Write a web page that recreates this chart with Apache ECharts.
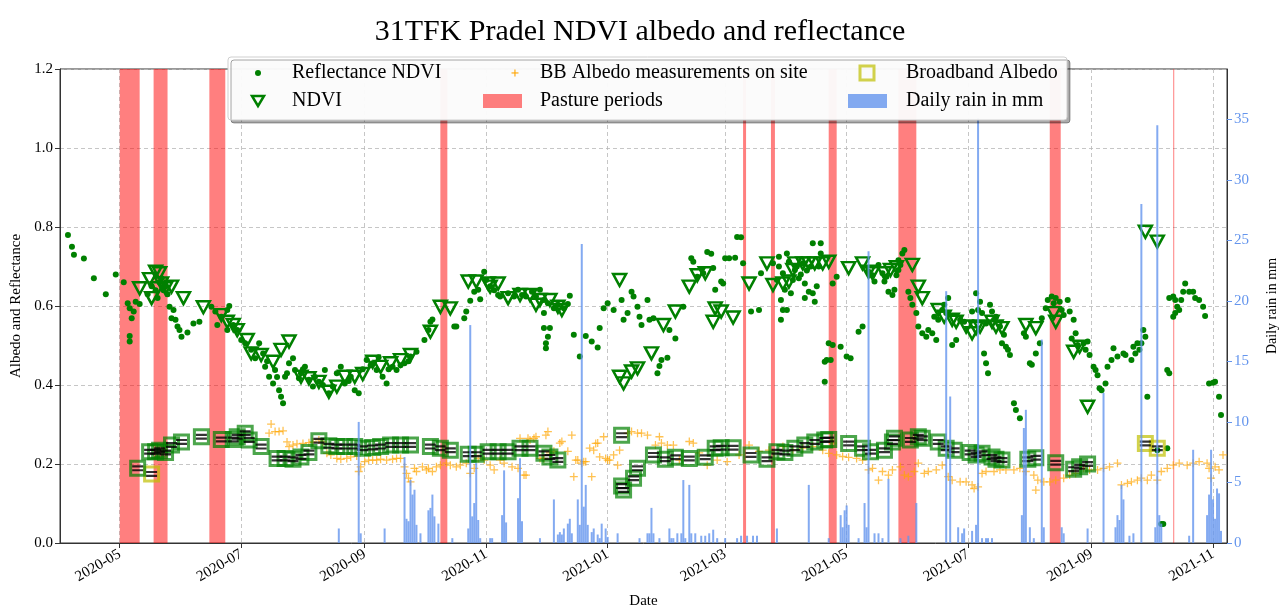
<!DOCTYPE html>
<html>
<head>
<meta charset="utf-8">
<script src="https://cdn.jsdelivr.net/npm/echarts@6/dist/echarts.min.js"></script>
<style>
html,body{margin:0;padding:0;background:#fff;}
#chart{width:1280px;height:608px;}
</style>
</head>
<body>
<div id="chart"></div>
<script>
// ---------------- DATA ----------------
const X_MIN = '2020-04-01';
const X_MAX = '2021-11-08';
const xTickLabels = ['2020-05','2020-07','2020-09','2020-11','2021-01','2021-03','2021-05','2021-07','2021-09','2021-11'];
const rainTicks = [0,5,10,15,20,25,30,35];
const RAIN_MAX = 39.15;

const pastureStart = ['2020-05-01','2020-05-18','2020-06-15','2020-10-09','2021-03-10','2021-03-24','2021-04-22','2021-05-27','2021-08-11','2021-10-12'];
const pastureEnd   = ['2020-05-11','2020-05-25','2020-06-23','2020-10-12T12:00','2021-03-11T12:00','2021-03-26','2021-04-26','2021-06-05','2021-08-16T12:00','2021-10-12T12:00'];

const reflectanceNdvi = [
['2020-04-05',0.78],['2020-04-07',0.75],['2020-04-08',0.73],['2020-04-13',0.72],['2020-04-18',0.67],['2020-04-24',0.63],['2020-04-29',0.68],['2020-05-03',0.66],
['2020-05-05',0.607],['2020-05-06',0.594],['2020-05-08',0.586],['2020-05-07',0.569],['2020-05-06',0.524],['2020-05-06',0.51],['2020-05-09',0.611],['2020-05-11',0.605],
['2020-05-15',0.63],['2020-05-17',0.65],['2020-05-19',0.64],['2020-05-20',0.62],['2020-05-21',0.66],['2020-05-22',0.67],['2020-05-23',0.64],['2020-05-24',0.65],['2020-05-25',0.63],
['2020-05-26',0.598],['2020-05-27',0.569],['2020-05-28',0.59],['2020-05-29',0.565],['2020-05-30',0.548],['2020-05-31',0.539],['2020-06-01',0.522],['2020-06-04',0.533],['2020-06-07',0.556],['2020-06-10',0.56],
['2020-06-16',0.598],['2020-06-18',0.586],['2020-06-19',0.552],['2020-06-21',0.573],['2020-06-24',0.59],['2020-06-24',0.539],['2020-06-25',0.60],
['2020-06-27',0.552],['2020-06-29',0.539],['2020-07-01',0.514],['2020-07-03',0.506],['2020-07-06',0.489],['2020-07-08',0.468],['2020-07-10',0.506],['2020-07-12',0.48],['2020-07-13',0.446],['2020-07-14',0.46],['2020-07-15',0.421],['2020-07-17',0.404],['2020-07-18',0.438],['2020-07-19',0.42],['2020-07-20',0.387],['2020-07-21',0.37],['2020-07-22',0.354],['2020-07-23',0.421],['2020-07-24',0.43],['2020-07-25',0.455],['2020-07-27',0.468],['2020-07-28',0.438],['2020-07-30',0.417],['2020-07-31',0.43],['2020-08-01',0.44],['2020-08-02',0.446],['2020-08-04',0.413],['2020-08-06',0.396],['2020-08-07',0.42],['2020-08-09',0.408],['2020-08-11',0.40],['2020-08-12',0.438],['2020-08-14',0.379],['2020-08-16',0.396],['2020-08-18',0.43],['2020-08-20',0.446],['2020-08-22',0.404],['2020-08-24',0.41],['2020-08-25',0.421],['2020-08-27',0.387],['2020-08-29',0.379],['2020-08-31',0.44],
['2020-09-02',0.463],['2020-09-04',0.45],['2020-09-05',0.455],['2020-09-07',0.438],['2020-09-08',0.47],['2020-09-10',0.421],['2020-09-12',0.404],['2020-09-13',0.44],['2020-09-15',0.446],['2020-09-17',0.438],['2020-09-19',0.45],['2020-09-21',0.455],['2020-09-23',0.46],['2020-09-24',0.472],['2020-09-27',0.484],['2020-10-01',0.514],['2020-10-03',0.539],['2020-10-04',0.56],['2020-10-05',0.566],
['2020-10-16',0.548],['2020-10-17',0.548],['2020-10-21',0.569],['2020-10-22',0.586],['2020-10-24',0.613],['2020-10-26',0.636],['2020-10-28',0.641],['2020-10-29',0.617],['2020-10-31',0.687],['2020-11-01',0.666],['2020-11-03',0.65],['2020-11-05',0.64],['2020-11-07',0.628],['2020-11-08',0.624],['2020-11-12',0.632],['2020-11-15',0.624],['2020-11-17',0.641],['2020-11-19',0.628],['2020-11-21',0.624],['2020-11-24',0.636],['2020-11-26',0.624],['2020-11-28',0.641],['2020-11-30',0.615],['2020-12-02',0.607],['2020-12-05',0.594],['2020-12-07',0.603],['2020-12-10',0.594],['2020-12-12',0.605],['2020-12-13',0.626],
['2020-11-30',0.582],['2020-11-30',0.544],['2020-12-03',0.544],['2020-12-02',0.522],['2020-12-01',0.506],['2020-12-01',0.493],
['2020-12-15',0.527],['2020-12-18',0.472],['2020-12-21',0.524],['2020-12-24',0.51],['2020-12-27',0.495],['2020-12-28',0.544],['2020-12-30',0.594],['2021-01-01',0.607],['2021-01-04',0.59],['2021-01-08',0.615],['2021-01-09',0.565],['2021-01-11',0.582],['2021-01-13',0.636],['2021-01-14',0.624],['2021-01-16',0.598],['2021-01-17',0.573],['2021-01-18',0.552],['2021-01-21',0.615],['2021-01-22',0.565],['2021-01-24',0.569],['2021-01-26',0.43],['2021-01-27',0.448],['2021-01-28',0.463],['2021-01-31',0.469],['2021-02-01',0.539],['2021-02-04',0.518],['2021-02-08',0.598],['2021-02-12',0.721],['2021-02-13',0.712],['2021-02-15',0.674],['2021-02-18',0.683],['2021-02-20',0.737],['2021-02-22',0.732],['2021-02-23',0.696],['2021-02-24',0.641],['2021-02-27',0.662],['2021-02-28',0.657],['2021-03-01',0.721],['2021-03-03',0.721],['2021-03-06',0.722],['2021-03-07',0.775],['2021-03-09',0.774],['2021-03-10',0.708],['2021-03-14',0.586],['2021-03-18',0.59],['2021-03-19',0.683],['2021-03-25',0.708],
['2021-03-27',0.666],['2021-03-28',0.70],['2021-03-28',0.725],['2021-03-30',0.683],['2021-03-31',0.641],['2021-03-29',0.615],['2021-03-30',0.59],['2021-03-29',0.565],['2021-04-01',0.733],['2021-04-02',0.712],['2021-04-03',0.632],['2021-04-01',0.59],['2021-04-04',0.666],['2021-04-05',0.691],['2021-04-06',0.70],['2021-04-07',0.67],['2021-04-08',0.68],['2021-04-09',0.708],['2021-04-10',0.657],['2021-04-11',0.69],['2021-04-12',0.636],['2021-04-10',0.62],['2021-04-13',0.70],['2021-04-14',0.759],['2021-04-14',0.632],['2021-04-15',0.611],['2021-04-16',0.65],['2021-04-17',0.70],['2021-04-18',0.759],['2021-04-18',0.733],['2021-04-20',0.459],['2021-04-20',0.408],['2021-04-21',0.463],['2021-04-22',0.506],['2021-04-23',0.463],['2021-04-24',0.657],['2021-04-24',0.501],['2021-04-26',0.674],['2021-04-28',0.497],['2021-05-01',0.472],['2021-05-03',0.468],['2021-05-07',0.535],['2021-05-09',0.548],
['2021-05-12',0.687],['2021-05-14',0.678],['2021-05-15',0.662],['2021-05-17',0.704],['2021-05-19',0.683],['2021-05-20',0.662],['2021-05-21',0.674],['2021-05-22',0.636],['2021-05-24',0.628],['2021-05-25',0.641],['2021-05-26',0.678],['2021-05-27',0.691],['2021-05-27',0.716],['2021-05-28',0.704],['2021-05-29',0.733],['2021-05-30',0.742],
['2021-06-01',0.636],['2021-06-02',0.62],['2021-06-03',0.603],['2021-06-05',0.582],['2021-06-06',0.548],['2021-06-08',0.531],['2021-06-10',0.522],['2021-06-11',0.539],['2021-06-13',0.531],['2021-06-15',0.514],['2021-06-14',0.573],['2021-06-16',0.565],['2021-06-19',0.603],['2021-06-21',0.62],['2021-06-18',0.59],['2021-06-20',0.582],
['2021-06-23',0.501],['2021-06-25',0.514],['2021-06-27',0.565],['2021-06-29',0.56],['2021-07-05',0.632],['2021-07-07',0.611],['2021-07-03',0.586],['2021-07-06',0.59],['2021-07-08',0.582],['2021-07-10',0.556],['2021-07-12',0.603],['2021-07-13',0.586],['2021-07-14',0.565],['2021-07-15',0.573],['2021-07-17',0.548],['2021-07-19',0.527],['2021-07-18',0.506],['2021-07-21',0.489],['2021-07-22',0.476],['2021-07-20',0.497],['2021-07-09',0.48],['2021-07-10',0.455],['2021-07-11',0.43],
['2021-07-24',0.354],['2021-07-25',0.337],['2021-07-27',0.316],['2021-07-29',0.531],['2021-07-30',0.522],['2021-08-01',0.455],['2021-08-02',0.451],['2021-08-04',0.48],['2021-08-06',0.506],
['2021-08-07',0.569],['2021-08-09',0.594],['2021-08-10',0.615],['2021-08-12',0.624],['2021-08-13',0.607],['2021-08-14',0.62],['2021-08-16',0.611],['2021-08-17',0.59],['2021-08-18',0.577],['2021-08-20',0.615],['2021-08-21',0.586],['2021-08-23',0.565],
['2021-08-22',0.518],['2021-08-24',0.531],['2021-08-25',0.501],['2021-08-28',0.506],['2021-08-30',0.51],['2021-08-29',0.489],['2021-08-31',0.476],['2021-09-02',0.446],['2021-09-03',0.438],['2021-09-04',0.425],['2021-09-05',0.392],['2021-09-06',0.387],['2021-09-08',0.404],['2021-09-09',0.446],['2021-09-11',0.463],['2021-09-12',0.493],['2021-09-14',0.472],['2021-09-17',0.48],['2021-09-18',0.476],['2021-09-21',0.463],['2021-09-22',0.497],['2021-09-23',0.48],['2021-09-24',0.506],['2021-09-25',0.489],['2021-09-26',0.506],['2021-09-27',0.539],['2021-09-28',0.522],['2021-09-29',0.37],
['2021-10-04',0.235],['2021-10-06',0.048],['2021-10-07',0.048],['2021-10-09',0.24],['2021-10-09',0.438],['2021-10-10',0.43],['2021-10-10',0.62],['2021-10-12',0.624],['2021-10-13',0.615],['2021-10-14',0.598],['2021-10-15',0.59],['2021-10-12',0.573],['2021-10-13',0.582],['2021-10-16',0.615],['2021-10-17',0.636],['2021-10-18',0.657],['2021-10-20',0.636],['2021-10-22',0.636],['2021-10-23',0.62],['2021-10-25',0.615],['2021-10-27',0.598],['2021-10-28',0.575],['2021-10-30',0.404],['2021-11-01',0.406],['2021-11-02',0.408],['2021-11-04',0.37],['2021-11-05',0.324]
];

const ndvi = [
['2020-05-11',0.645],['2020-05-16',0.668],['2020-05-17',0.62],['2020-05-19',0.687],['2020-05-21',0.683],['2020-05-20',0.645],['2020-05-22',0.657],['2020-05-24',0.645],['2020-05-27',0.649],['2020-06-02',0.62],['2020-06-12',0.597],['2020-06-21',0.577],['2020-06-24',0.56],['2020-06-27',0.552],['2020-06-29',0.539],['2020-07-04',0.514],['2020-07-06',0.48],['2020-07-11',0.476],['2020-07-17',0.459],['2020-07-21',0.489],['2020-07-25',0.51],['2020-07-31',0.421],['2020-08-04',0.417],['2020-08-09',0.408],['2020-08-14',0.383],['2020-08-18',0.396],['2020-08-22',0.421],['2020-08-27',0.421],['2020-08-31',0.428],['2020-09-05',0.459],['2020-09-09',0.446],['2020-09-14',0.455],['2020-09-19',0.463],['2020-09-24',0.476],['2020-10-04',0.535],['2020-10-09',0.598],['2020-10-14',0.594],
['2020-10-23',0.662],['2020-10-27',0.662],['2020-11-02',0.657],['2020-11-03',0.649],['2020-11-07',0.657],['2020-11-12',0.62],['2020-11-18',0.628],['2020-11-23',0.628],['2020-11-26',0.603],['2020-11-28',0.615],['2020-12-03',0.615],['2020-12-07',0.598],['2020-12-09',0.59],
['2021-01-07',0.666],['2021-01-07',0.421],['2021-01-09',0.404],['2021-01-13',0.434],['2021-01-16',0.442],['2021-01-23',0.48],['2021-01-29',0.552],['2021-02-04',0.586],['2021-02-11',0.649],['2021-02-15',0.678],['2021-02-19',0.683],['2021-02-23',0.56],['2021-02-24',0.594],['2021-02-27',0.586],['2021-03-05',0.571],['2021-03-13',0.657],['2021-03-22',0.708],['2021-03-25',0.653],['2021-03-30',0.657],['2021-04-02',0.662],['2021-04-04',0.691],['2021-04-05',0.708],['2021-04-09',0.708],['2021-04-12',0.708],['2021-04-15',0.708],['2021-04-19',0.708],['2021-04-22',0.712],
['2021-05-02',0.696],['2021-05-09',0.708],['2021-05-12',0.687],['2021-05-14',0.683],['2021-05-20',0.683],['2021-05-23',0.691],['2021-05-26',0.698],['2021-06-03',0.704],['2021-06-06',0.649],['2021-06-08',0.62],['2021-06-16',0.59],['2021-06-19',0.573],['2021-06-23',0.565],['2021-06-25',0.56],['2021-06-30',0.548],['2021-07-03',0.531],['2021-07-05',0.544],['2021-07-07',0.548],['2021-07-13',0.56],['2021-07-15',0.548],['2021-07-18',0.544],['2021-07-30',0.552],['2021-08-04',0.544],['2021-08-13',0.582],['2021-08-14',0.56],['2021-08-23',0.484],['2021-08-26',0.497],['2021-08-30',0.345],['2021-09-28',0.788],['2021-10-04',0.763]
];

const bbAlbedoSite = [
['2020-07-15',0.278],['2020-07-16',0.301],['2020-07-18',0.282],['2020-07-20',0.282],['2020-07-22',0.284],['2020-07-24',0.256],['2020-07-25',0.244],['2020-07-27',0.248],['2020-07-29',0.251],['2020-08-01',0.252],['2020-08-04',0.254],['2020-08-06',0.256],['2020-08-09',0.261],['2020-08-11',0.256],['2020-08-13',0.227],['2020-08-15',0.223],['2020-08-18',0.214],['2020-08-20',0.212],['2020-08-23',0.214],['2020-08-25',0.218],['2020-08-28',0.22],['2020-08-29',0.181],['2020-08-30',0.193],['2020-09-01',0.206],['2020-09-03',0.21],['2020-09-05',0.21],['2020-09-07',0.21],['2020-09-09',0.212],['2020-09-12',0.21],['2020-09-15',0.212],['2020-09-17',0.214],['2020-09-19',0.214],['2020-09-21',0.193],['2020-09-22',0.176],['2020-09-23',0.164],['2020-09-24',0.155],['2020-09-26',0.189],['2020-09-27',0.181],['2020-09-30',0.193],['2020-10-02',0.185],['2020-10-03',0.189],['2020-10-05',0.181],['2020-10-07',0.193],['2020-10-09',0.197],['2020-10-12',0.202],['2020-10-14',0.197],['2020-10-17',0.193],['2020-10-19',0.197],['2020-10-22',0.202],['2020-10-24',0.176],['2020-10-26',0.189],['2020-10-28',0.214],['2020-10-31',0.21],['2020-11-03',0.197],['2020-11-05',0.185],['2020-11-08',0.21],['2020-11-10',0.202],['2020-11-14',0.193],['2020-11-17',0.189],['2020-11-20',0.172],['2020-11-21',0.172],['2020-11-18',0.265],['2020-11-22',0.265],['2020-11-23',0.261],['2020-11-25',0.265],['2020-11-26',0.269],['2020-11-28',0.214],['2020-11-30',0.214],['2020-12-01',0.273],['2020-12-02',0.282],['2020-12-03',0.228],['2020-12-05',0.232],['2020-12-08',0.253],['2020-12-09',0.257],['2020-12-12',0.232],['2020-12-14',0.273],['2020-12-15',0.168],['2020-12-16',0.21],['2020-12-17',0.21],['2020-12-19',0.202],['2020-12-20',0.206],['2020-12-21',0.206],['2020-12-23',0.24],['2020-12-24',0.168],['2020-12-25',0.235],['2020-12-26',0.252],['2020-12-27',0.253],['2020-12-28',0.218],['2020-12-30',0.269],['2020-12-31',0.214],['2021-01-01',0.21],['2021-01-02',0.21],['2021-01-04',0.223],['2021-01-06',0.197],['2021-01-07',0.235],['2021-01-11',0.278],['2021-01-13',0.282],['2021-01-16',0.278],['2021-01-18',0.278],['2021-01-21',0.273],['2021-01-25',0.248],['2021-01-27',0.269],['2021-01-28',0.253],['2021-01-31',0.248],['2021-02-03',0.248],['2021-02-06',0.21],['2021-02-11',0.257],['2021-02-13',0.253],['2021-02-16',0.228],['2021-02-20',0.197],['2021-02-25',0.21],['2021-03-02',0.206],['2021-03-08',0.223],['2021-03-13',0.248],['2021-03-18',0.232],['2021-03-23',0.235],['2021-03-30',0.244],['2021-04-04',0.235],['2021-04-09',0.24],['2021-04-14',0.244],['2021-04-19',0.235],['2021-04-22',0.227],['2021-04-24',0.253],['2021-04-26',0.223],['2021-04-29',0.219],['2021-05-02',0.217],['2021-05-06',0.214],['2021-05-09',0.21],['2021-05-12',0.185],['2021-05-14',0.189],['2021-05-17',0.159],['2021-05-19',0.181],['2021-05-22',0.172],['2021-05-24',0.185],['2021-05-28',0.193],['2021-05-30',0.172],['2021-06-01',0.168],['2021-06-04',0.181],['2021-06-06',0.202],['2021-06-09',0.176],['2021-06-11',0.181],['2021-06-15',0.185],['2021-06-18',0.197],['2021-06-21',0.168],['2021-06-23',0.159],['2021-06-27',0.155],['2021-06-30',0.155],['2021-07-03',0.147],['2021-07-04',0.138],['2021-07-06',0.142],['2021-07-08',0.176],['2021-07-10',0.181],['2021-07-14',0.181],['2021-07-17',0.185],['2021-07-20',0.185],['2021-07-24',0.185],['2021-07-27',0.189],['2021-07-30',0.181],['2021-08-03',0.172],['2021-08-04',0.134],['2021-08-05',0.159],['2021-08-08',0.155],['2021-08-11',0.155],['2021-08-14',0.159],['2021-08-18',0.164],['2021-08-21',0.172],['2021-08-24',0.176],['2021-08-28',0.189],['2021-08-31',0.185],['2021-09-04',0.185],['2021-09-07',0.189],['2021-09-10',0.193],['2021-09-14',0.202],['2021-09-16',0.147],['2021-09-19',0.151],['2021-09-21',0.155],['2021-09-24',0.159],['2021-09-26',0.164],['2021-09-29',0.159],['2021-10-01',0.172],['2021-10-04',0.159],['2021-10-06',0.181],['2021-10-09',0.189],['2021-10-12',0.197],['2021-10-15',0.202],['2021-10-19',0.197],['2021-10-22',0.202],['2021-10-25',0.206],['2021-10-29',0.202],['2021-10-30',0.189],['2021-10-31',0.164],['2021-11-02',0.193],['2021-11-04',0.185],['2021-11-06',0.223]
];

const broadbandAlbedo = [
['2020-05-10',0.189],['2020-05-16',0.231],['2020-05-19',0.231],['2020-05-21',0.235],['2020-05-24',0.229],['2020-05-27',0.248],['2020-06-01',0.256],['2020-06-11',0.269],['2020-06-21',0.262],['2020-06-27',0.262],['2020-06-29',0.269],['2020-07-03',0.278],['2020-07-05',0.261],['2020-07-11',0.244],['2020-07-19',0.214],['2020-07-23',0.214],['2020-07-27',0.212],['2020-07-31',0.218],['2020-08-04',0.229],['2020-08-09',0.259],['2020-08-14',0.246],['2020-08-18',0.244],['2020-08-22',0.244],['2020-08-27',0.244],['2020-08-31',0.24],['2020-09-05',0.242],['2020-09-09',0.244],['2020-09-14',0.248],['2020-09-19',0.248],['2020-09-24',0.248],['2020-10-04',0.244],['2020-10-09',0.24],['2020-10-14',0.235],['2020-10-23',0.225],['2020-10-27',0.225],['2020-11-02',0.231],['2020-11-07',0.231],['2020-11-12',0.231],['2020-11-18',0.24],['2020-11-23',0.24],['2020-11-30',0.227],['2020-12-03',0.218],['2020-12-07',0.21],
['2021-01-08',0.273],['2021-01-08',0.144],['2021-01-09',0.134],['2021-01-14',0.164],['2021-01-16',0.189],['2021-01-24',0.223],['2021-01-30',0.212],['2021-02-04',0.217],['2021-02-11',0.214],['2021-02-19',0.217],['2021-02-24',0.24],['2021-02-27',0.241],['2021-03-05',0.241],['2021-03-14',0.223],['2021-03-22',0.212],['2021-03-27',0.231],['2021-03-31',0.229],['2021-04-05',0.24],['2021-04-10',0.248],['2021-04-15',0.256],['2021-04-20',0.261],['2021-04-22',0.262],['2021-05-02',0.252],['2021-05-09',0.24],['2021-05-13',0.231],['2021-05-20',0.235],['2021-05-24',0.256],['2021-05-25',0.265],['2021-06-02',0.261],['2021-06-06',0.269],['2021-06-08',0.265],['2021-06-16',0.256],['2021-06-20',0.24],['2021-06-24',0.235],['2021-07-02',0.229],['2021-07-05',0.223],['2021-07-08',0.227],['2021-07-13',0.218],['2021-07-15',0.212],['2021-07-18',0.21],['2021-07-31',0.212],['2021-08-04',0.216],['2021-08-14',0.203],['2021-08-23',0.187],['2021-08-26',0.193],['2021-08-30',0.2]
];
const broadbandAlbedoOnly = [['2020-05-17',0.175],['2021-09-28',0.252],['2021-10-04',0.24]];

const dailyRain = [
['2020-08-19',1.2],['2020-08-29',10.0],['2020-08-30',0.8],['2020-09-11',1.2],['2020-09-21',7.1],['2020-09-22',2.0],['2020-09-23',1.8],['2020-09-24',5.2],['2020-09-25',4.0],['2020-09-26',4.4],['2020-09-27',1.5],['2020-09-29',0.8],['2020-10-03',2.7],['2020-10-04',2.9],['2020-10-05',4.0],['2020-10-06',2.2],['2020-10-08',1.6],['2020-10-15',0.4],['2020-10-23',1.2],['2020-10-24',18.0],['2020-10-25',2.2],['2020-10-26',3.3],['2020-10-27',6.6],['2020-10-28',1.9],['2020-10-29',0.4],['2020-11-03',0.4],['2020-11-04',0.4],['2020-11-09',2.3],['2020-11-10',6.0],['2020-11-11',1.7],['2020-11-17',3.7],['2020-11-18',7.0],['2020-11-19',1.8],['2020-11-28',0.4],['2020-12-05',3.6],['2020-12-07',0.7],['2020-12-08',0.9],['2020-12-09',0.7],['2020-12-10',1.2],['2020-12-12',1.6],['2020-12-13',2.0],['2020-12-14',0.8],['2020-12-17',3.6],['2020-12-18',1.5],['2020-12-19',24.7],['2020-12-20',3.0],['2020-12-21',4.8],['2020-12-22',1.5],['2020-12-24',0.9],['2020-12-25',1.2],['2020-12-27',0.7],['2020-12-28',0.4],['2020-12-29',1.6],['2020-12-31',1.2],
['2021-01-01',0.5],['2021-01-06',0.8],['2021-01-17',0.4],['2021-01-21',0.8],['2021-01-22',0.8],['2021-01-23',2.9],['2021-01-24',0.8],['2021-01-27',0.4],['2021-02-01',1.2],['2021-02-02',0.4],['2021-02-03',0.4],['2021-02-05',0.8],['2021-02-07',0.8],['2021-02-08',5.2],['2021-02-09',0.4],['2021-02-11',4.8],['2021-02-12',0.8],['2021-02-14',0.8],['2021-02-17',0.6],['2021-02-19',0.6],['2021-02-21',0.8],['2021-02-23',1.1],['2021-02-25',0.4],['2021-03-01',0.4],['2021-03-07',0.4],['2021-03-09',0.6],['2021-03-12',0.6],['2021-03-15',0.6],['2021-03-17',0.6],['2021-03-27',1.2],['2021-04-12',4.8],['2021-04-22',0.4],['2021-04-28',2.3],['2021-04-29',1.3],['2021-04-30',2.7],['2021-05-01',3.1],['2021-05-02',1.5],['2021-05-07',0.4],['2021-05-10',3.3],['2021-05-11',1.3],['2021-05-12',24.1],['2021-05-15',0.8],['2021-05-17',0.8],['2021-05-19',0.4],['2021-05-22',5.3],['2021-05-28',0.4],['2021-06-01',0.6],['2021-06-05',3.3],['2021-06-20',20.8],['2021-06-22',12.1],['2021-06-26',1.3],['2021-06-28',0.8],['2021-06-29',1.2],['2021-07-03',1.0],['2021-07-05',1.5],['2021-07-06',35.1],['2021-07-08',0.4],['2021-07-10',0.4],['2021-07-11',0.4],['2021-07-13',0.4],['2021-07-28',2.3],['2021-07-29',9.5],['2021-07-30',11.0],['2021-08-01',1.3],['2021-08-03',0.4],['2021-08-07',16.8],['2021-08-08',1.3],['2021-08-17',1.3],['2021-08-18',0.8],['2021-08-30',1.2],['2021-09-07',12.4],['2021-09-13',1.3],['2021-09-14',2.3],['2021-09-15',1.9],['2021-09-16',4.8],['2021-09-17',3.6],['2021-09-20',0.6],['2021-09-22',0.8],['2021-09-26',28.0],['2021-10-03',1.3],['2021-10-04',34.5],['2021-10-05',2.3],['2021-10-06',1.6],['2021-10-20',0.6],['2021-10-22',7.7],['2021-10-29',2.3],['2021-10-30',4.0],['2021-10-31',7.7],['2021-11-01',3.6],['2021-11-02',2.0],['2021-11-03',4.5],['2021-11-04',4.1],['2021-11-05',1.0]
];

// ---------------- CHART ----------------
const FONT = 'Liberation Serif, Times New Roman, serif';
const GREEN = '#008000';
function T(s) { return Date.parse(s.length <= 10 ? s + 'T00:00:00Z' : s + ':00Z'); }
function toXY(arr) { return arr.map(p => [T(p[0]), p[1]]); }

const chart = echarts.init(document.getElementById('chart'), null, {renderer: 'canvas'});

const pastureAreas = pastureStart.map((s, i) => [{xAxis: T(s)}, {xAxis: T(pastureEnd[i])}]);
const tickValues = xTickLabels.map(s => T(s + '-01'));
const PLUS = 'path://M4.2,0H5.8V10H4.2Z M0,4.2H10V5.8H0Z';
const EQ = 'path://M0,0H12V2.2H0Z M0,3.8H12V6H0Z';

function txt(x, y, s) {
  return {type: 'text', x: x, y: y, z: 101, style: {text: s, font: '20px ' + FONT, fill: '#000', verticalAlign: 'middle'}};
}
const legendItems = [
  {type: 'rect', z: 100, shape: {x: 228, y: 57, width: 839, height: 63, r: 3},
    style: {fill: 'rgba(255,255,255,0.95)', stroke: '#cfcfcf', lineWidth: 1, shadowColor: 'rgba(0,0,0,0.35)', shadowOffsetX: 3, shadowOffsetY: 3, shadowBlur: 0}},
  {type: 'circle', z: 101, shape: {cx: 258, cy: 73, r: 3}, style: {fill: GREEN}},
  {type: 'polygon', z: 101, shape: {points: [[252, 96], [264, 96], [258, 106]]}, style: {fill: 'none', stroke: GREEN, lineWidth: 2.5}},
  {type: 'rect', z: 101, shape: {x: 514.3, y: 69.5, width: 1.3, height: 7}, style: {fill: 'rgba(255,165,0,0.85)'}},
  {type: 'rect', z: 101, shape: {x: 511.5, y: 72.3, width: 7, height: 1.3}, style: {fill: 'rgba(255,165,0,0.85)'}},
  {type: 'rect', z: 101, shape: {x: 483, y: 94, width: 39, height: 14}, style: {fill: 'rgba(255,0,0,0.5)'}},
  {type: 'rect', z: 101, shape: {x: 860, y: 66, width: 14, height: 14}, style: {fill: 'none', stroke: 'rgba(191,191,0,0.7)', lineWidth: 3}},
  {type: 'rect', z: 101, shape: {x: 848, y: 94, width: 39, height: 14}, style: {fill: 'rgba(100,149,237,0.8)'}},
  txt(292, 73, 'Reflectance NDVI'),
  txt(292, 101, 'NDVI'),
  txt(540, 73, 'BB Albedo measurements on site'),
  txt(540, 101, 'Pasture periods'),
  txt(906, 73, 'Broadband Albedo'),
  txt(906, 101, 'Daily rain in mm')
];

const option = {
  animation: false,
  backgroundColor: '#fff',
  textStyle: {fontFamily: FONT},
  title: {
    text: '31TFK Pradel NDVI albedo and reflectance',
    left: 'center', top: 12,
    textStyle: {fontFamily: FONT, fontSize: 30, fontWeight: 'normal', color: '#000'}
  },
  grid: {left: 60, right: 53, top: 69, bottom: 65, outerBoundsMode: 'none', containLabel: false,
    show: true, borderColor: '#333', borderWidth: 1, backgroundColor: 'transparent'},
  xAxis: {
    type: 'value', min: T(X_MIN), max: T(X_MAX),
    name: 'Date', nameLocation: 'middle', nameGap: 51,
    nameTextStyle: {fontFamily: FONT, fontSize: 15, color: '#000'},
    axisLine: {show: true, onZero: false, lineStyle: {color: '#333', width: 1}},
    axisTick: {show: true, length: 5, customValues: tickValues, lineStyle: {color: '#333'}},
    axisLabel: {customValues: tickValues, rotate: 30, margin: 10, fontFamily: FONT, fontSize: 15, color: '#000',
      formatter: v => echarts.time.format(v, '{yyyy}-{MM}', true)},
    splitLine: {show: true, lineStyle: {color: '#b8b8b8', type: [4, 3], width: 0.8}}
  },
  yAxis: [
    {
      type: 'value', min: 0, max: 1.2, interval: 0.2,
      name: 'Albedo and Reflectance', nameLocation: 'middle', nameRotate: 90, nameGap: 36,
      nameTextStyle: {fontFamily: FONT, fontSize: 15, color: '#000'},
      axisLine: {show: true, lineStyle: {color: '#333'}},
      axisTick: {show: true, length: 5, lineStyle: {color: '#333'}},
      axisLabel: {fontFamily: FONT, fontSize: 15, color: '#000', margin: 7, formatter: v => v.toFixed(1)},
      splitLine: {show: true, lineStyle: {color: '#b8b8b8', type: [4, 3], width: 0.8}}
    },
    {
      type: 'value', min: 0, max: RAIN_MAX, position: 'right',
      name: 'Daily rain in mm', nameLocation: 'middle', nameRotate: 90, nameGap: 38,
      nameTextStyle: {fontFamily: FONT, fontSize: 14, color: '#000'},
      axisLine: {show: true, lineStyle: {color: '#333'}},
      axisTick: {show: true, length: 5, customValues: rainTicks, lineStyle: {color: '#6495ED'}},
      axisLabel: {customValues: rainTicks, fontFamily: FONT, fontSize: 15, color: '#6495ED', margin: 7},
      splitLine: {show: false}
    }
  ],
  graphic: legendItems,
  series: [
    {
      name: 'Pasture periods', type: 'line', data: [], z: 1, symbol: 'none',
      markArea: {silent: true, itemStyle: {color: 'rgba(255,0,0,0.5)'}, data: pastureAreas}
    },
    {
      name: 'Reflectance NDVI', type: 'scatter', data: toXY(reflectanceNdvi), z: 3,
      symbol: 'circle', symbolSize: 6, itemStyle: {color: GREEN, opacity: 1}
    },
    {
      name: 'NDVI', type: 'scatter', data: toXY(ndvi), z: 4,
      symbol: 'triangle', symbolRotate: 180, symbolSize: [13, 12],
      itemStyle: {color: 'rgba(0,0,0,0)', borderColor: GREEN, borderWidth: 2.5, opacity: 1}
    },
    {
      name: 'BB Albedo measurements on site', type: 'scatter', data: toXY(bbAlbedoSite), z: 5,
      symbol: PLUS, symbolSize: 8, itemStyle: {color: 'rgba(255,165,0,0.85)'}
    },
    {
      name: 'Broadband Albedo', type: 'scatter', data: toXY(broadbandAlbedoOnly), z: 6,
      symbol: 'rect', symbolSize: 14,
      itemStyle: {color: 'rgba(0,0,0,0)', borderColor: 'rgba(191,191,0,0.7)', borderWidth: 3, opacity: 1}
    },
    {
      name: 'Broadband Albedo (NDVI dates)', type: 'scatter', data: toXY(broadbandAlbedo), z: 6,
      symbol: 'rect', symbolSize: 14,
      itemStyle: {color: 'rgba(0,0,0,0)', borderColor: 'rgba(0,128,0,0.7)', borderWidth: 3, opacity: 1}
    },
    {
      name: 'Albedo marks', type: 'scatter', data: toXY(broadbandAlbedo.concat(broadbandAlbedoOnly)), z: 7,
      symbol: EQ, symbolSize: [11, 6], itemStyle: {color: '#000'}
    },
    {
      name: 'Daily rain in mm', type: 'bar', yAxisIndex: 1, data: toXY(dailyRain), z: 8,
      barWidth: 2, itemStyle: {color: 'rgba(100,149,237,0.8)'}
    }
  ]
};
chart.setOption(option);
</script>
</body>
</html>
